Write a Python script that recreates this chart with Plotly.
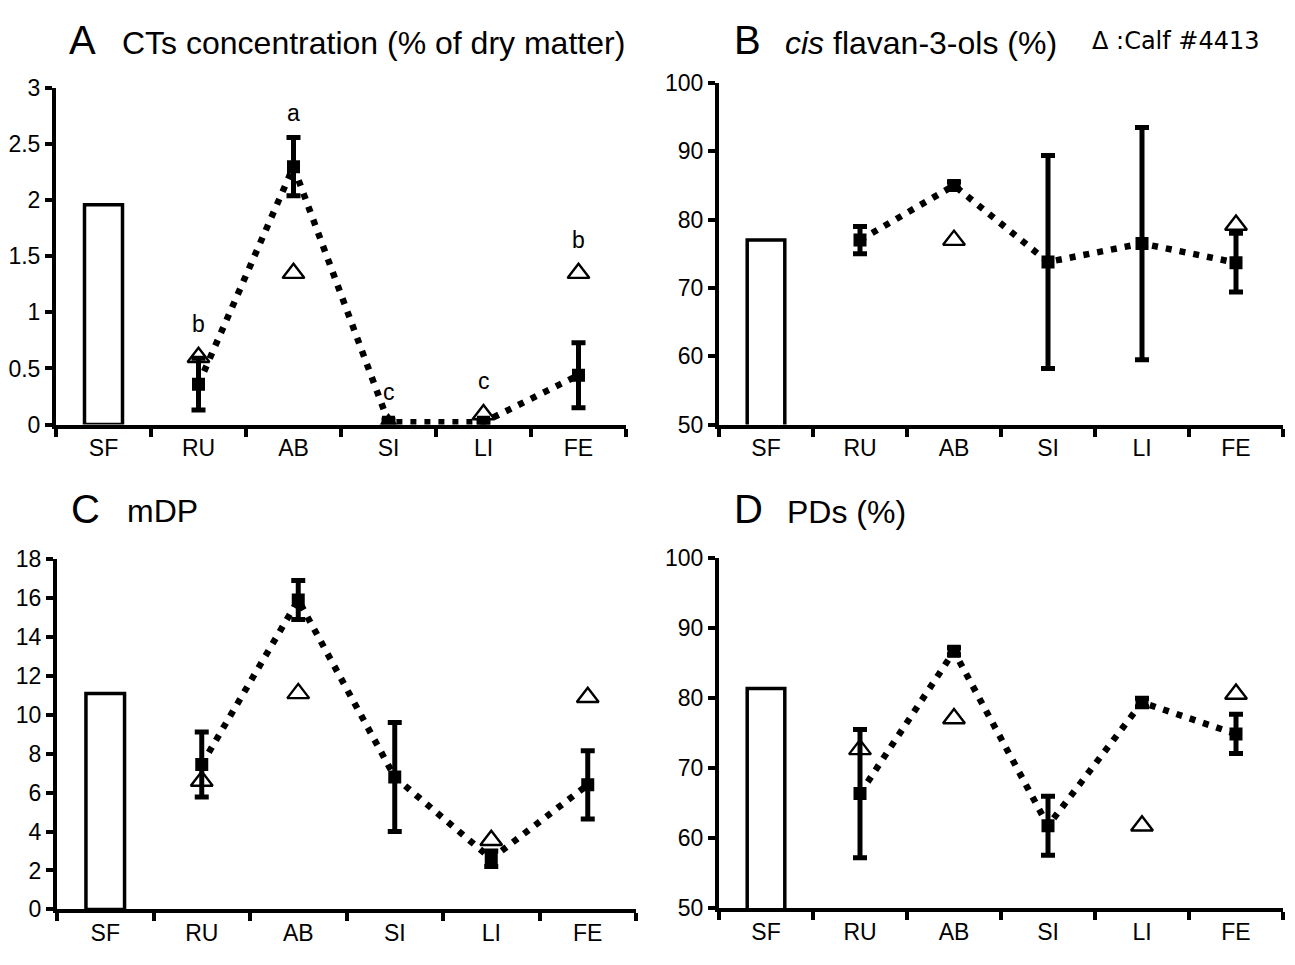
import plotly.graph_objects as go

categories = ["SF", "RU", "AB", "SI", "LI", "FE"]
gut_sites = ["RU", "AB", "SI", "LI", "FE"]

# Panel A: CTs concentration (% of dry matter)
ct_sf = 1.96
ct_mean = [0.36, 2.30, 0.02, 0.02, 0.44]
ct_err = [0.23, 0.26, 0.02, 0.02, 0.29]
ct_calf = [0.60, 1.35, 0.0, 0.09, 1.35]
ct_letters = ["b", "a", "c", "c", "b"]

# Panel B: cis flavan-3-ols (%)
cis_sf = 77.0
cis_mean = [77.0, 85.0, 73.8, 76.5, 73.7]
cis_err = [2.0, 0.5, 15.6, 17.0, 4.3]
cis_calf = [None, 77.0, None, None, 79.2]

# Panel C: mDP
mdp_sf = 11.1
mdp_mean = [7.45, 15.9, 6.8, 2.6, 6.4]
mdp_err = [1.67, 1.0, 2.8, 0.4, 1.75]
mdp_calf = [6.6, 11.1, None, 3.55, 10.9]

# Panel D: PDs (%)
pd_sf = 81.4
pd_mean = [66.4, 86.7, 61.8, 79.4, 74.9]
pd_err = [9.15, 0.5, 4.2, 0.6, 2.8]
pd_calf = [72.7, 77.1, None, 61.8, 80.6]

W, H = 1295, 965
OFF = 8  # page body margin of the exported html


def px_x(p):
    return (p - OFF) / W


def px_y(p):
    return 1 - (p - OFF) / H


panels = [
    dict(ax="", sf=ct_sf, mean=ct_mean, err=ct_err, calf=ct_calf,
         xpx=(56, 626), ypx=(422.7, 77), yr=[0, 3], dt=0.5,
         letters=ct_letters),
    dict(ax="2", sf=cis_sf, mean=cis_mean, err=cis_err, calf=cis_calf,
         xpx=(719, 1283), ypx=(422.7, 71.7), yr=[50, 100], dt=10,
         letters=None),
    dict(ax="3", sf=mdp_sf, mean=mdp_mean, err=mdp_err, calf=mdp_calf,
         xpx=(57, 636), ypx=(921, 561), yr=[0, 18], dt=2, letters=None),
    dict(ax="4", sf=pd_sf, mean=pd_mean, err=pd_err, calf=pd_calf,
         xpx=(719, 1283), ypx=(920, 560), yr=[50, 100], dt=10,
         letters=None),
]

FONT = "Liberation Sans, Arial, sans-serif"
fig = go.Figure()
annotations = []
layout_axes = {}

for p in panels:
    xa, ya = "x" + p["ax"], "y" + p["ax"]
    fig.add_trace(go.Bar(
        x=["SF"], y=[p["sf"]], width=0.4, xaxis=xa, yaxis=ya,
        marker=dict(color="white", line=dict(color="black", width=3.5)),
        showlegend=False, hoverinfo="skip"))
    fig.add_trace(go.Scatter(
        x=gut_sites, y=p["mean"], mode="lines", xaxis=xa, yaxis=ya,
        line=dict(color="black", width=6.5, dash="6px,8px"),
        showlegend=False, hoverinfo="skip"))
    fig.add_trace(go.Scatter(
        x=gut_sites, y=p["mean"], mode="markers", xaxis=xa, yaxis=ya,
        marker=dict(symbol="square", size=13, color="black"),
        error_y=dict(type="data", array=p["err"], visible=True,
                     color="black", thickness=5, width=7),
        showlegend=False, hoverinfo="skip"))
    fig.add_trace(go.Scatter(
        x=gut_sites, y=p["calf"], mode="markers", xaxis=xa, yaxis=ya,
        marker=dict(symbol="triangle-up-open", size=19, color="black",
                    line=dict(color="black", width=2.4)),
        showlegend=False, hoverinfo="skip"))

    x0, x1 = p["xpx"]
    yb, yt = p["ypx"]
    layout_axes["xaxis" + p["ax"]] = dict(
        domain=[px_x(x0), px_x(x1)], anchor=ya, type="category",
        categoryorder="array", categoryarray=categories, range=[-0.5, 5.5],
        showline=True, linecolor="black", linewidth=4,
        ticks="outside", tickson="boundaries", ticklen=8, tickwidth=3.5,
        tickcolor="black", tickfont=dict(family=FONT, size=23, color="black"),
        showgrid=False, zeroline=False)
    layout_axes["yaxis" + p["ax"]] = dict(
        domain=[px_y(yb), px_y(yt)], anchor=xa, range=p["yr"],
        tick0=p["yr"][0], dtick=p["dt"], showline=True, linecolor="black",
        linewidth=4, ticks="outside", ticklen=7, tickwidth=3.5,
        tickcolor="black", tickfont=dict(family=FONT, size=23, color="black"),
        showgrid=False, zeroline=False)

    if p["letters"]:
        ppu = (yb - yt) / (p["yr"][1] - p["yr"][0])  # pixels per unit
        for site, m, e, c, letter in zip(gut_sites, p["mean"], p["err"],
                                         p["calf"], p["letters"]):
            # anchor above the error bar, or above the calf mark if higher
            y_anchor, shift = m + e, 24
            if c is not None and c * ppu + 33 > (m + e) * ppu + 24:
                y_anchor, shift = c, 33
            annotations.append(dict(
                x=site, y=y_anchor, xref=xa, yref=ya, text=letter,
                showarrow=False, yanchor="middle", yshift=shift,
                font=dict(family=FONT, size=23, color="black")))


def title(x, y, text, size, family=FONT):
    annotations.append(dict(
        x=px_x(x), y=px_y(y), xref="paper", yref="paper", text=text,
        xanchor="left", yanchor="middle", showarrow=False,
        font=dict(family=family, size=size, color="black")))


title(67, 28, "A", 40)
title(120, 31, "CTs concentration (% of dry matter)", 32)
title(732, 28, "B", 40)
title(783, 31, "<i>cis</i> flavan-3-ols (%)", 32)
title(1090, 29, "Δ :Calf #4413", 24, family="DejaVu Sans, Verdana, sans-serif")
title(69, 510, "C", 40)
title(125, 512, "mDP", 32)
title(732, 510, "D", 40)
title(785, 513, "PDs (%)", 32)

fig.update_layout(
    width=W, height=H, margin=dict(l=0, r=0, t=0, b=0),
    paper_bgcolor="white", plot_bgcolor="white",
    showlegend=False, annotations=annotations, **layout_axes)

fig.write_html("out.html")
